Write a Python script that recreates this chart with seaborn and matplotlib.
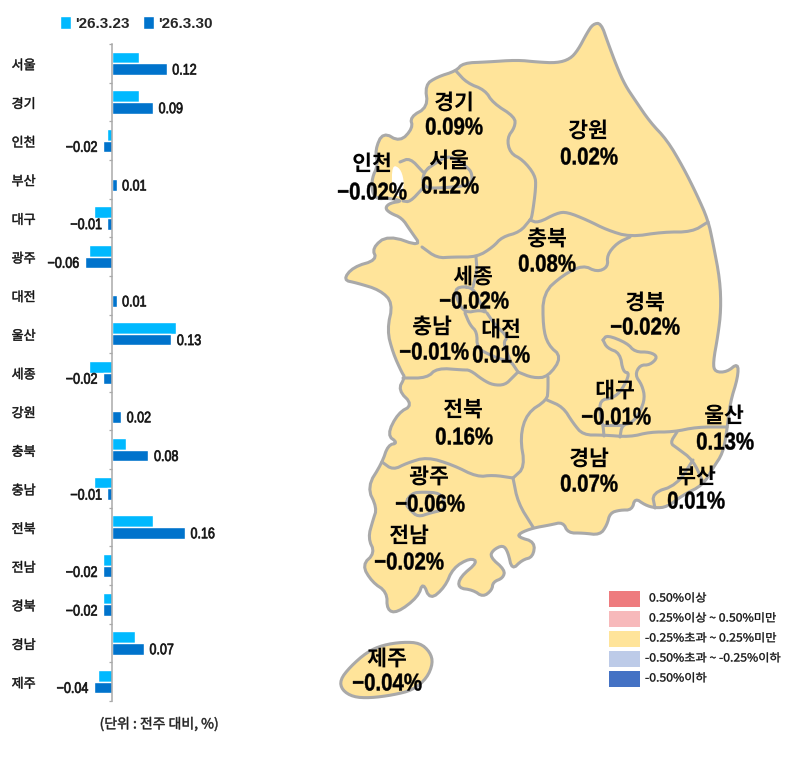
import numpy as np
import pandas as pd
import matplotlib
matplotlib.use("Agg")
import matplotlib.pyplot as plt
from matplotlib import font_manager
from matplotlib.patches import Polygon, Rectangle
from matplotlib.patheffects import AbstractPathEffect
from matplotlib.transforms import Affine2D, ScaledTranslation
import seaborn as sns

# Weekly apartment price change by region (%)
regions = ["서울", "경기", "인천", "부산", "대구", "광주", "대전", "울산", "세종",
           "강원", "충북", "충남", "전북", "전남", "경북", "경남", "제주"]
prev_week = [0.06, 0.06, -0.01, 0.00, -0.04, -0.05, 0.00, 0.14, -0.05,
             0.00, 0.03, -0.04, 0.09, -0.02, -0.02, 0.05, -0.03]
this_week = [0.12, 0.09, -0.02, 0.01, -0.01, -0.06, 0.01, 0.13, -0.02,
             0.02, 0.08, -0.01, 0.16, -0.02, -0.02, 0.07, -0.04]
week_names = ["'26.3.23", "'26.3.30"]
week_colors = ["#00B9FF", "#0073CC"]

legend_labels = ["0.50%이상", "0.25%이상 ~ 0.50%미만", "-0.25%초과 ~ 0.25%미만",
                 "-0.50%초과 ~ -0.25%이하", "-0.50%이하"]
legend_colors = ["#EE7B7E", "#F7B9BB", "#FFE49A", "#BDCBE8", "#4472C4"]
unit_note = "(단위 : 전주 대비, %)"

# Map label anchors: region -> (name x, name y, value x, value y)
map_labels = {
    "경기": (454, 103, 454, 128), "강원": (588, 131, 589, 158),
    "인천": (372, 164, 372, 193), "서울": (449, 161, 450, 187),
    "충북": (547, 239, 547, 265), "세종": (473, 277, 474, 302),
    "경북": (645, 303, 645, 328), "충남": (432, 327, 434, 353),
    "대전": (501, 330, 501, 356), "대구": (615, 391, 616, 418),
    "울산": (724, 416, 725, 443), "전북": (463, 410, 464, 438),
    "경남": (589, 459, 589, 485), "부산": (696, 477, 696, 502),
    "광주": (429, 477, 430, 505), "전남": (409, 536, 409, 563),
    "제주": (387, 659, 387, 684),
}

# Map geometry
mainland = [
    (456, 71), (463, 63), (487, 62), (517, 60), (537, 62), (557, 63), (570, 59), (578, 50),
    (587, 33), (593, 24), (601, 23), (608, 43), (617, 67), (625, 85), (635, 100), (650, 122),
    (667, 140), (683, 167), (697, 195), (708, 220), (713, 243), (720, 280), (721, 310),
    (718, 335), (713, 363), (715, 372), (727, 372), (738, 363), (738, 377), (730, 403),
    (727, 430), (723, 453), (713, 468), (703, 485), (683, 495), (667, 507), (655, 508),
    (645, 505), (635, 498), (632, 510), (620, 510), (610, 513), (607, 525), (600, 535),
    (583, 533), (568, 533), (563, 522), (550, 525), (533, 528), (520, 533), (518, 537),
    (535, 542), (533, 557), (522, 560), (512, 570), (508, 552), (503, 545), (493, 550),
    (490, 557), (505, 570), (503, 578), (493, 582), (492, 590), (483, 597), (473, 590),
    (458, 588), (460, 577), (478, 562), (470, 558), (453, 568), (445, 587), (430, 600),
    (423, 582), (418, 597), (397, 613), (387, 610), (387, 592), (372, 582), (362, 565),
    (375, 553), (368, 538), (373, 520), (377, 508), (367, 487), (382, 463), (388, 445),
    (398, 443), (387, 435), (398, 413), (413, 405), (398, 390), (405, 377), (402, 373),
    (393, 353), (387, 330), (393, 303), (380, 290), (357, 283), (343, 280), (353, 267),
    (377, 260), (372, 248), (388, 235), (422, 247), (410, 230), (402, 218), (390, 213),
    (385, 208), (390, 203), (403, 201), (388, 198), (377, 199), (372, 192), (372, 178),
    (378, 165), (375, 150), (383, 132), (400, 142), (413, 128), (410, 117), (428, 107),
    (425, 85), (437, 77),
]
jeju = [(340, 680), (350, 667), (367, 652), (383, 645), (403, 642), (420, 643), (430, 652),
        (433, 663), (427, 678), (413, 690), (393, 695), (370, 698), (353, 697), (342, 690)]
incheon_bay = [(392, 165), (400, 168), (404, 180), (403, 192), (398, 198), (392, 190)]
seoul_ring = [(423, 172), (437, 162), (450, 155), (467, 167), (472, 173), (472, 185),
              (443, 188), (423, 188)]
sejong_ring = [(473, 287), (455, 287), (457, 300), (465, 313), (480, 310), (487, 313), (480, 303)]
gwangju_ring = [(405, 503), (412, 493), (423, 492), (440, 493), (445, 502), (443, 510),
                (430, 513), (418, 517), (410, 510)]
borders = [
    [(456, 71), (467, 83), (485, 90), (493, 103), (515, 117), (515, 127), (507, 138), (510, 153),
     (523, 160), (535, 175), (536, 187), (532, 217), (530, 220)],
    [(530, 220), (538, 223), (557, 213), (567, 212), (587, 220), (607, 230), (630, 237),
     (663, 232), (692, 232), (708, 222)],
    [(422, 247), (437, 258), (453, 257), (477, 257), (493, 247), (502, 237), (520, 232), (530, 220)],
    [(630, 237), (617, 243), (607, 255), (608, 267), (597, 272), (583, 265), (563, 275),
     (543, 293), (543, 327), (548, 345), (562, 357), (548, 377), (533, 378), (518, 372)],
    [(403, 378), (427, 378), (437, 368), (463, 370), (470, 370), (483, 380), (493, 385),
     (505, 385), (513, 377), (518, 372)],
    [(548, 377), (548, 390), (547, 400), (527, 413), (520, 437), (525, 467), (513, 478)],
    [(382, 462), (393, 470), (407, 463), (427, 457), (453, 465), (477, 477), (493, 475), (513, 478)],
    [(513, 478), (518, 503), (533, 527)],
    [(547, 400), (563, 407), (573, 423), (583, 435), (603, 435), (630, 437), (650, 432),
     (673, 432), (697, 427), (727, 427)],
    [(677, 432), (670, 443), (677, 448), (693, 460), (703, 482)],
    [(655, 508), (652, 493), (677, 485), (693, 460)],
    [(476, 257), (477, 270), (473, 287)],
    [(465, 313), (470, 325), (477, 332), (477, 348), (490, 355), (503, 360), (510, 360), (518, 372)],
    [(487, 313), (495, 325), (508, 337), (503, 343), (510, 360)],
    [(603, 340), (607, 335), (627, 343), (635, 352), (650, 352), (658, 357), (650, 365),
     (640, 365), (635, 375), (642, 385), (645, 398), (640, 412), (632, 423), (622, 425), (620, 437)],
    [(603, 340), (607, 348), (620, 353), (623, 372), (630, 373), (622, 390), (613, 398),
     (600, 400), (600, 415), (603, 425), (604, 436)],
    [(603, 425), (622, 425)],
    [(400, 162), (410, 158), (423, 172)],
    [(423, 188), (410, 202), (403, 201)],
]


def rounded(points, closed=False, passes=2):
    """Corner-cutting smoothing so the borders read as curves."""
    pts = np.asarray(points, float)
    for _ in range(passes):
        nxt = np.roll(pts, -1, axis=0)
        q = 0.75 * pts + 0.25 * nxt
        r = 0.25 * pts + 0.75 * nxt
        cut = np.empty((2 * len(pts), 2))
        cut[0::2], cut[1::2] = q, r
        if closed:
            pts = cut
        else:
            pts = np.vstack([pts[0], cut[:-2], pts[-1]])
    return pts


class GlyphShape(AbstractPathEffect):
    """Narrows or widens a text's glyphs around its anchor and thickens their strokes."""

    def __init__(self, text, xscale=1.0, stroke=0.0):
        super().__init__()
        self.text, self.xscale, self.stroke = text, xscale, stroke

    def draw_path(self, renderer, gc, tpath, affine, rgbFace=None):
        if self.xscale != 1.0:
            box = self.text.get_window_extent()
            ha = self.text.get_ha()
            cx = {"left": box.x0, "right": box.x1}.get(ha, 0.5 * (box.x0 + box.x1))
            affine = affine + Affine2D().translate(-cx, 0).scale(self.xscale, 1).translate(cx, 0)
        gc0 = renderer.new_gc()
        gc0.copy_properties(gc)
        gc0.set_linewidth(self.stroke)
        if rgbFace is not None:
            gc0.set_foreground(rgbFace)
        renderer.draw_path(gc0, tpath, affine, rgbFace)
        gc0.restore()


def shape(text, xscale=1.0, stroke=0.0):
    text.set_path_effects([GlyphShape(text, xscale, stroke)])
    return text


KR = "Noto Sans CJK KR"
LATIN = "Liberation Sans"

sns.set_theme(style="white")
plt.rcParams["font.family"] = [KR, "DejaVu Sans"]

W, H = 797, 762
fig = plt.figure(figsize=(W / 100, H / 100), dpi=100, facecolor="white")

# Bar panel: zero sits at x=112 px, 456 px per percentage point
left_px, right_px, top_px, bottom_px = 40, 260, 44, 701
ax = fig.add_axes([left_px / W, 1 - bottom_px / H, (right_px - left_px) / W, (bottom_px - top_px) / H])
ax.patch.set_alpha(0)

df = pd.DataFrame({
    "region": regions * 2,
    "change": prev_week + this_week,
    "week": [week_names[0]] * len(regions) + [week_names[1]] * len(regions),
})
sns.barplot(data=df, y="region", x="change", hue="week", orient="h", order=regions,
            hue_order=week_names, palette=week_colors, width=0.6, gap=0,
            saturation=1, errorbar=None, ax=ax)
ax.set_xlim((left_px - 112) / 456, (right_px - 112) / 456)
ax.set_ylim(len(regions) - 0.5, -0.5)
ax.set_xlabel("")
ax.set_ylabel("")
ax.xaxis.set_visible(False)
for side in ("top", "right", "bottom"):
    ax.spines[side].set_visible(False)
ax.spines["left"].set_position(("data", 0))
ax.spines["left"].set_color("#A9A9A9")
ax.spines["left"].set_linewidth(1.1)
ax.set_yticks(np.arange(-0.5, len(regions)), minor=True)
ax.tick_params(axis="y", which="minor", length=2.5, width=0.9, color="#A9A9A9", left=True)
ax.tick_params(axis="y", which="major", length=0, pad=55, labelsize=9.4, labelcolor="#111111", left=False)
nudge_down = ScaledTranslation(0, -1 / 100, fig.dpi_scale_trans)
for lab in ax.get_yticklabels():
    lab.set_transform(lab.get_transform() + nudge_down)
    shape(lab, stroke=0.35)

value_text = [f"{v:.2f}".replace("-", "\u2212") for v in this_week]
bar_values = ax.bar_label(ax.containers[1], labels=value_text, padding=4, fontsize=11,
                          family=LATIN, color="#111111")
for ann in bar_values:
    ann.xyann = (ann.xyann[0], -1.0)
    shape(ann, xscale=0.82, stroke=0.5)

handles, names = ax.get_legend_handles_labels()
leg = ax.legend(handles, names, loc="center left", bbox_to_anchor=(60 / W, 1 - 23.5 / H),
                bbox_transform=fig.transFigure, ncol=2, frameon=False, handlelength=0.72,
                handleheight=0.9, handletextpad=0.26, columnspacing=0.9, borderpad=0, borderaxespad=0,
                prop=font_manager.FontProperties(family=LATIN, weight="bold", size=11))

# Map and key share one overlay in pixel coordinates
mp = fig.add_axes([0, 0, 1, 1], zorder=3)
mp.set_xlim(0, W)
mp.set_ylim(H, 0)
mp.axis("off")
mp.patch.set_alpha(0)

FILL, EDGE = "#FFE49A", "#A9A9A9"
LW = 2.2
for outline in (mainland, jeju):
    mp.add_patch(Polygon(rounded(outline, closed=True), closed=True, facecolor=FILL,
                         edgecolor=EDGE, linewidth=LW, joinstyle="round"))
mp.add_patch(Polygon(rounded(incheon_bay, closed=True), closed=True, facecolor="white",
                     edgecolor="none"))
for line in borders:
    xy = rounded(line)
    mp.plot(xy[:, 0], xy[:, 1], color=EDGE, lw=LW, solid_capstyle="round", solid_joinstyle="round")
for ring in (seoul_ring, sejong_ring, gwangju_ring):
    xy = rounded(ring, closed=True)
    xy = np.vstack([xy, xy[0]])
    mp.plot(xy[:, 0], xy[:, 1], color=EDGE, lw=LW, solid_joinstyle="round")

latest = dict(zip(regions, this_week))
for name, (nx, ny, vx, vy) in map_labels.items():
    shape(mp.text(nx, ny, name, ha="center", va="center", fontsize=15.5, fontweight="bold",
                  family=KR, color="black"))
    label = f"{latest[name]:.2f}%".replace("-", "\u2212")
    shape(mp.text(vx, vy, label, ha="center", va="center", fontsize=17.5, family=LATIN,
                  fontweight="bold", color="black"), xscale=0.84, stroke=0.3)

# Colour key
key_tops = [591, 611, 631, 651, 671]
key_text_x = [649, 649, 645, 645, 645]
for top, color, label, tx in zip(key_tops, legend_colors, legend_labels, key_text_x):
    mp.add_patch(Rectangle((609, top), 31, 16, facecolor=color, edgecolor="none"))
    shape(mp.text(tx, top + 7.5, label, ha="left", va="center", fontsize=8, color="#111111",
                  family=[KR, "DejaVu Sans"]), xscale=1.1, stroke=0.25)

shape(mp.text(159, 724, unit_note, ha="center", va="center", fontsize=10,
              family=KR, color="#222222"), stroke=0.35)

fig.savefig("out.png", dpi=100)
